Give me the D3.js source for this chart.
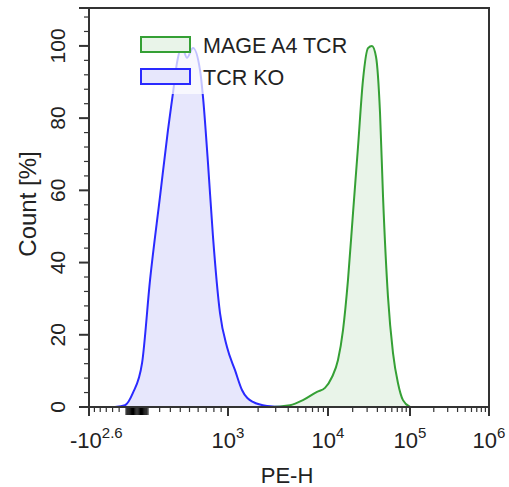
<!DOCTYPE html>
<html>
<head>
<meta charset="utf-8">
<script src="https://cdn.jsdelivr.net/npm/d3@7"></script>
<style>
  body { margin: 0; background: #fff; }
  text { font-family: "Liberation Sans", Arial, sans-serif; fill: #222; }
</style>
</head>
<body>
<div class="container"></div>
<script>
// svg dimensions
const width = 509;
const height = 487;
const margin = {left: 89, top: 8};
const plotW = 400;
const plotH = 399;

// PE-H values and Count [%]
const koX = [-181, -107, -36, 45, 117, 203, 277, 326, 366, 418, 472, 540, 622, 659, 722, 788, 884, 985, 1175, 1380, 1778, 2455, 3715];
const koY = [0, 0.5, 3.9, 12.2, 35.2, 58.2, 76.7, 87, 95.3, 99.7, 96.7, 99.4, 93.4, 85.9, 67.6, 47.1, 26, 16.6, 10.2, 4.7, 1.4, 0.3, 0];
const mageX = [1660, 2630, 4170, 5620, 7760, 9330, 11190, 13240, 15240, 17530, 20180, 23220, 26720, 30750, 34400, 38500, 43100, 46900, 53900, 62000, 71400, 82100, 100000];
const mageY = [0, 0, 0.5, 1.9, 4.2, 5.3, 8.3, 13, 21.3, 35.2, 53.7, 72, 90.6, 99.4, 100, 97, 81.4, 58.2, 30.5, 15, 6.6, 1.9, 0];

const seriesNames = ["MAGE A4 TCR", "TCR KO"];

// x axis ticks (biexponential)
const xMajor = [-398.1, 1e3, 1e4, 1e5, 1e6];
const xMajorBase = ["-10", "10", "10", "10", "10"];
const xMajorExp = ["2.6", "3", "4", "5", "6"];
const xMinor = [-350, -300, -250, -200, -150, -100,
  -90, -80, -70, -60, -50, -40, -30, -20, -10, 0, 10, 20, 30, 40, 50, 60, 70, 80, 90,
  100, 200, 300, 400, 500, 600, 700, 800, 900,
  2e3, 3e3, 4e3, 5e3, 6e3, 7e3, 8e3, 9e3,
  2e4, 3e4, 4e4, 5e4, 6e4, 7e4, 8e4, 9e4,
  2e5, 3e5, 4e5, 5e5, 6e5, 7e5, 8e5, 9e5];
const yMajor = [0, 20, 40, 60, 80, 100];

// biex-like transform: linear-ish near zero, log10 above 1000
function tf(v) {
  const a = Math.abs(v), s = Math.sign(v);
  return a >= 1000 ? s * (Math.log10(a) - 2) : s * Math.log2(1 + a / 1000);
}
const knots = [-398.1, -100, 0, 100, 1e3, 1e4, 1e5, 1e6];
const knotFrac = [0, 0.0925, 0.12, 0.1475, 0.3475, 0.5975, 0.8025, 1];
const xs = d3.scaleLinear()
  .domain(knots.map(tf))
  .range(knotFrac.map(f => margin.left + f * plotW));
const x = v => xs(tf(v));

const y = d3.scaleLinear().domain([0, 110.5]).range([margin.top + plotH, margin.top]);

const svg = d3.select('.container')
  .append('svg')
  .attr('width', width)
  .attr('height', height);

// histograms
const area = d3.area()
  .x(d => x(d[0]))
  .y0(y(0))
  .y1(d => y(d[1]))
  .curve(d3.curveMonotoneX);
const line = d3.line()
  .x(d => x(d[0]))
  .y(d => y(d[1]))
  .curve(d3.curveMonotoneX);

const koData = koX.map((v, i) => [v, koY[i]]);
const mageData = mageX.map((v, i) => [v, mageY[i]]);

svg.append('path').datum(mageData).attr('d', area).attr('fill', '#e9f4e9');
svg.append('path').datum(koData).attr('d', area).attr('fill', '#e7e7fc');
svg.append('path').datum(mageData).attr('d', line)
  .attr('fill', 'none').attr('stroke', '#35a035').attr('stroke-width', 2);
svg.append('path').datum(koData).attr('d', line)
  .attr('fill', 'none').attr('stroke', '#2a2aff').attr('stroke-width', 2);

// legend, semi transparent background over the curves
const legend = svg.append('g').attr('id', 'legend');
legend.append('rect')
  .attr('x', 134).attr('y', 30)
  .attr('width', 222).attr('height', 64)
  .attr('fill', 'white').attr('fill-opacity', 0.72);
const legColors = [['#35a035', '#e9f4e9'], ['#2a2aff', '#e7e7fc']];
seriesNames.forEach((name, i) => {
  legend.append('rect')
    .attr('x', 141).attr('y', 37 + i * 32)
    .attr('width', 49).attr('height', 15)
    .attr('fill', legColors[i][1])
    .attr('stroke', legColors[i][0])
    .attr('stroke-width', 2);
  legend.append('text')
    .attr('x', 203).attr('y', 53 + i * 32)
    .attr('font-size', 21.5)
    .text(name);
});

// y axis ticks
const yTicks = d3.range(0, 111, 4);
svg.append('g').selectAll('line')
  .data(yTicks.filter(t => t % 20 !== 0))
  .enter().append('line')
  .attr('x1', margin.left - 5).attr('x2', margin.left)
  .attr('y1', d => y(d)).attr('y2', d => y(d))
  .attr('stroke', '#333').attr('stroke-width', 1.2);
svg.append('g').selectAll('line')
  .data(yMajor)
  .enter().append('line')
  .attr('x1', margin.left - 10).attr('x2', margin.left)
  .attr('y1', d => y(d)).attr('y2', d => y(d))
  .attr('stroke', '#333').attr('stroke-width', 2);
svg.append('g').selectAll('text')
  .data(yMajor)
  .enter().append('text')
  .attr('transform', d => `translate(65,${y(d)}) rotate(-90)`)
  .attr('text-anchor', 'middle')
  .attr('font-size', 21)
  .text(d => d);

// x axis ticks
const x0 = margin.top + plotH;
svg.append('g').selectAll('line')
  .data(xMinor)
  .enter().append('line')
  .attr('x1', d => x(d)).attr('x2', d => x(d))
  .attr('y1', x0).attr('y2', d => Math.abs(d) <= 100 ? x0 + 8 : x0 + 5)
  .attr('stroke', d => Math.abs(d) < 100 ? '#000' : '#333')
  .attr('stroke-width', 1.2);
svg.append('g').selectAll('line')
  .data(xMajor)
  .enter().append('line')
  .attr('x1', d => x(d)).attr('x2', d => x(d))
  .attr('y1', x0).attr('y2', x0 + 9)
  .attr('stroke', '#333').attr('stroke-width', 2);
const xl = svg.append('g').selectAll('text')
  .data(xMajor)
  .enter().append('text')
  .attr('x', (d, i) => i === 0 ? x(d) - 19 : x(d))
  .attr('y', 448)
  .attr('text-anchor', (d, i) => i === 0 ? 'start' : 'middle')
  .attr('font-size', 22);
xl.append('tspan').text((d, i) => xMajorBase[i]);
xl.append('tspan').attr('dy', -10).attr('font-size', 15).text((d, i) => xMajorExp[i]);

// frame
svg.append('path')
  .attr('d', `M${margin.left - 10},${margin.top}H${margin.left + plotW}V${x0}H${margin.left}V${margin.top}`)
  .attr('fill', 'none').attr('stroke', '#333').attr('stroke-width', 2);

// axis titles
svg.append('text')
  .attr('x', margin.left + plotW / 2 - 2).attr('y', 483)
  .attr('text-anchor', 'middle').attr('font-size', 22)
  .text('PE-H');
svg.append('text')
  .attr('transform', `translate(36,${204}) rotate(-90)`)
  .attr('text-anchor', 'middle').attr('font-size', 24)
  .text('Count [%]');
</script>
</body>
</html>
